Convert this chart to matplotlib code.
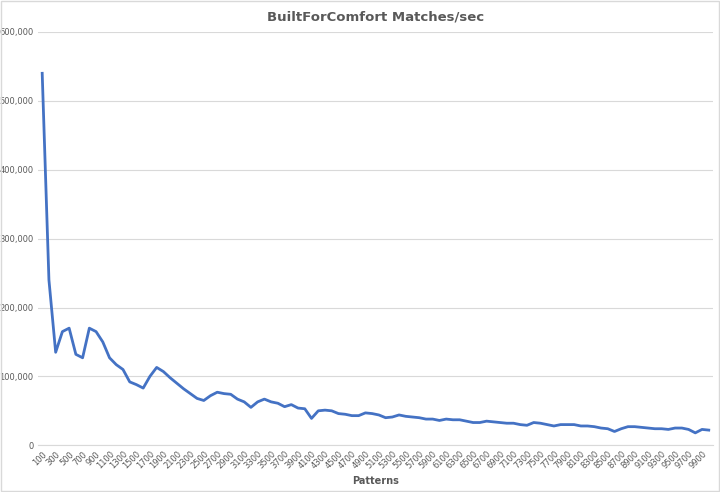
import matplotlib
matplotlib.use("Agg")
import matplotlib.pyplot as plt
from matplotlib.ticker import FuncFormatter

patterns = list(range(100, 10001, 100))
matches = [540000, 240000, 135000, 165000, 170000, 132000, 127000, 170000, 165000, 150000,
           127000, 117000, 110000, 92000, 88000, 83000, 100000, 113000, 107000, 98000,
           90000, 82000, 75000, 68000, 65000, 72000, 77000, 75000, 74000, 67000,
           63000, 55000, 63000, 67000, 63000, 61000, 56000, 59000, 54000, 53000,
           39000, 50000, 51000, 50000, 46000, 45000, 43000, 43000, 47000, 46000,
           44000, 40000, 41000, 44000, 42000, 41000, 40000, 38000, 38000, 36000,
           38000, 37000, 37000, 35000, 33000, 33000, 35000, 34000, 33000, 32000,
           32000, 30000, 29000, 33000, 32000, 30000, 28000, 30000, 30000, 30000,
           28000, 28000, 27000, 25000, 24000, 20000, 24000, 27000, 27000, 26000,
           25000, 24000, 24000, 23000, 25000, 25000, 23000, 18000, 23000, 22000]

fig = plt.figure(figsize=(7.2, 4.92), dpi=100)
fig.patches.append(plt.Rectangle((0.002, 0.002), 0.996, 0.996, transform=fig.transFigure,
                                 fill=False, edgecolor="#d9d9d9", lw=1))
ax = fig.add_axes([0.053, 0.095, 0.937, 0.84])
x = list(range(len(patterns)))
ax.plot(x, matches, color="#4472c4", lw=2)
ax.set_xlim(-0.6, len(x) - 0.4)
ax.set_ylim(0, 600000)
ax.set_yticks(range(0, 600001, 100000))
ax.yaxis.set_major_formatter(FuncFormatter(lambda v, p: f"{int(v):,}"))
ax.set_xticks(x[::2])
ax.set_xticklabels([str(p) for p in patterns[::2]], rotation=45, ha="right",
                   rotation_mode="anchor", fontsize=6, color="#595959")
ax.tick_params(axis="y", labelsize=6, labelcolor="#595959", length=0)
ax.tick_params(axis="x", length=0, pad=3)
ax.grid(axis="y", color="#d9d9d9", lw=0.8)
ax.set_axisbelow(True)
for s in ["top", "right", "left"]:
    ax.spines[s].set_visible(False)
ax.spines["bottom"].set_color("#d9d9d9")
ax.set_title("BuiltForComfort Matches/sec", fontsize=9.5, fontweight="bold", color="#595959", pad=8)
ax.set_xlabel("Patterns", fontsize=7, fontweight="bold", color="#595959", labelpad=4)
fig.savefig("out.png", dpi=100)
